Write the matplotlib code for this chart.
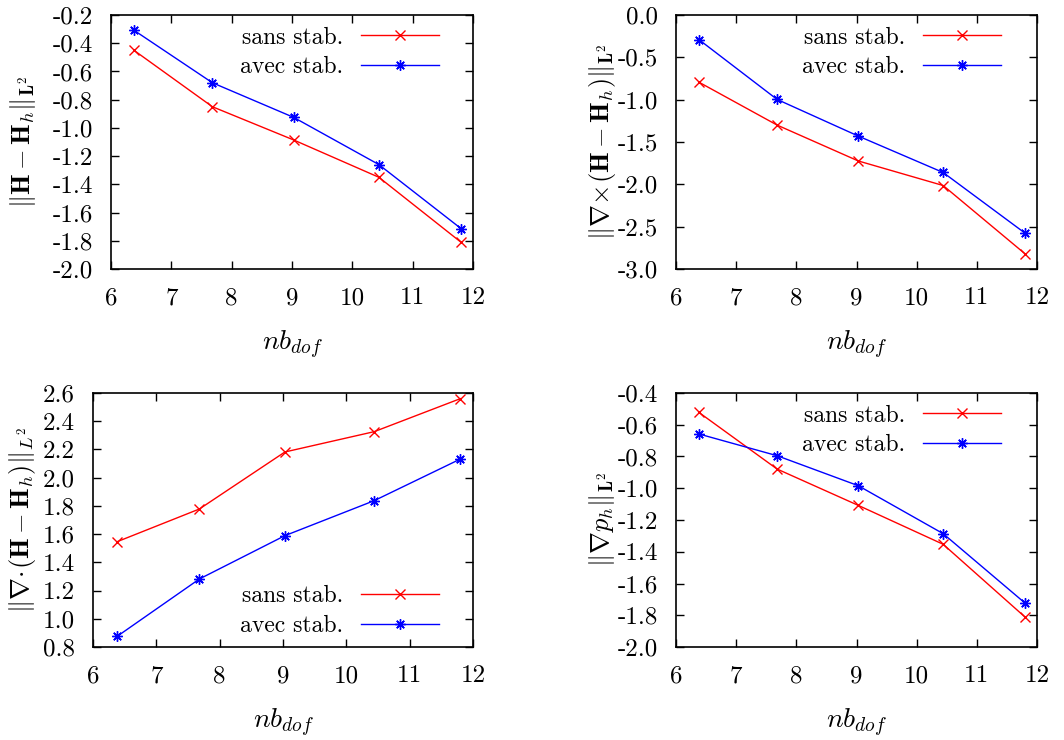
import matplotlib
matplotlib.use("Agg")
import matplotlib.pyplot as plt
from matplotlib.ticker import FuncFormatter, MultipleLocator

plt.rcParams["font.family"] = ["cmr10", "DejaVu Serif"]
plt.rcParams["mathtext.fontset"] = "cm"
plt.rcParams["axes.unicode_minus"] = False
plt.rcParams["axes.formatter.use_mathtext"] = False

# log of the number of degrees of freedom
nb_dof = [6.38, 7.68, 9.03, 10.44, 11.80]

# ||H - H_h||_L2
err_H_sans = [-0.45, -0.85, -1.086, -1.35, -1.81]
err_H_avec = [-0.308, -0.68, -0.926, -1.26, -1.713]

# ||curl(H - H_h)||_L2
err_curl_sans = [-0.793, -1.30, -1.724, -2.014, -2.82]
err_curl_avec = [-0.29, -0.997, -1.43, -1.86, -2.576]

# ||div(H - H_h)||_L2
err_div_sans = [1.546, 1.778, 2.182, 2.326, 2.56]
err_div_avec = [0.875, 1.282, 1.589, 1.837, 2.132]

# ||grad p_h||_L2
err_p_sans = [-0.522, -0.879, -1.108, -1.353, -1.811]
err_p_avec = [-0.658, -0.795, -0.984, -1.286, -1.723]

labels = ["sans stab.", "avec stab."]
RED = "#ff0000"
BLUE = "#0000ff"
TICK_FS = 18
LEG_FS = 17
YLAB_FS = 19
XLAB_FS = 20

W, H = 1064, 740
fig = plt.figure(figsize=(W / 100, H / 100), dpi=100)


def px_axes(left, right, top, bottom):
    return fig.add_axes([left / W, 1 - bottom / H, (right - left) / W, (bottom - top) / H])


panels = [
    dict(box=(111, 473, 15, 269), sans=err_H_sans, avec=err_H_avec,
         ylim=(-2.0, -0.2), ystep=0.2,
         ylabel=r"$\|\mathbf{H}-\mathbf{H}_h\|_{\mathbf{L}^2}$",
         ylx=23, leg="upper", legy=0.955),
    dict(box=(676, 1037, 15, 269), sans=err_curl_sans, avec=err_curl_avec,
         ylim=(-3.0, 0.0), ystep=0.5,
         ylabel=r"$\|\nabla\!\times\!(\mathbf{H}-\mathbf{H}_h)\|_{\mathbf{L}^2}$",
         ylx=602, leg="upper", legy=0.955),
    dict(box=(93, 473, 393, 647), sans=err_div_sans, avec=err_div_avec,
         ylim=(0.8, 2.6), ystep=0.2,
         ylabel=r"$\|\nabla\!\cdot\!(\mathbf{H}-\mathbf{H}_h)\|_{L^2}$",
         ylx=23, leg="lower", legy=0.04),
    dict(box=(676, 1037, 393, 647), sans=err_p_sans, avec=err_p_avec,
         ylim=(-2.0, -0.4), ystep=0.2,
         ylabel=r"$\|\nabla p_h\|_{\mathbf{L}^2}$",
         ylx=602, leg="upper", legy=0.955),
]

for p in panels:
    left, right, top, bottom = p["box"]
    ax = px_axes(left, right, top, bottom)
    ax.plot(nb_dof, p["sans"], color=RED, lw=1.0, marker="x", ms=6.5, mew=1.0,
            label=labels[0])
    ax.plot(nb_dof, p["avec"], color=BLUE, lw=1.0, marker=(8, 2, 0), ms=7.5, mew=1.0,
            label=labels[1])
    ax.set_xlim(6, 12)
    ax.set_ylim(*p["ylim"])
    ax.xaxis.set_major_locator(MultipleLocator(1))
    ax.yaxis.set_major_locator(MultipleLocator(p["ystep"]))
    ax.xaxis.set_major_formatter(FuncFormatter(lambda v, pos: "%d" % round(v)))
    ax.yaxis.set_major_formatter(FuncFormatter(lambda v, pos: "%.1f" % v))
    ax.tick_params(direction="in", length=6, width=1.0, top=True, right=True,
                   labelsize=TICK_FS, color="black")
    ax.tick_params(axis="x", pad=13)
    ax.tick_params(axis="y", pad=13)
    for s in ax.spines.values():
        s.set_linewidth(1.2)

    ax.set_ylabel(p["ylabel"], fontsize=YLAB_FS, va="center")
    ax.yaxis.set_label_coords((p["ylx"] - left) / (right - left), 0.5)
    ax.set_xlabel(r"$nb_{dof}$", fontsize=XLAB_FS, va="center")
    ax.xaxis.set_label_coords(0.5, -76 / (bottom - top))

    loc = "upper right" if p["leg"] == "upper" else "lower right"
    line_end = (439 - left) / (right - left) if left < 500 else (1001 - left) / (right - left)
    ax.legend(loc=loc, bbox_to_anchor=(line_end, p["legy"]), frameon=False,
              markerfirst=False, fontsize=LEG_FS, handlelength=3.3, handletextpad=0.75,
              labelspacing=0.33, borderpad=0.0, borderaxespad=0.0)

fig.savefig("out.png", dpi=100)
